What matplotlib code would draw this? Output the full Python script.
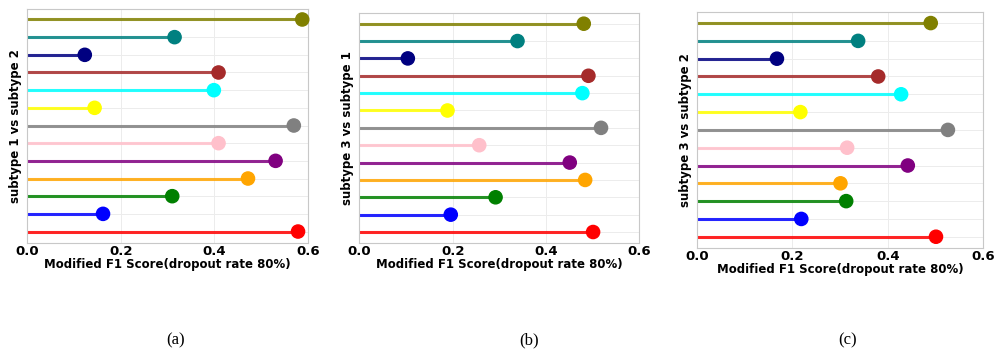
import matplotlib.pyplot as plt
import numpy as np

# rows, bottom to top
colors = ['red', 'blue', 'green', 'orange', 'purple', 'pink', 'gray',
          'yellow', 'cyan', 'brown', 'navy', 'teal', 'olive']

f1_s1_s2 = [0.579, 0.162, 0.310, 0.472, 0.531, 0.409, 0.570,
            0.144, 0.399, 0.409, 0.123, 0.315, 0.588]
f1_s3_s1 = [0.501, 0.196, 0.292, 0.484, 0.451, 0.257, 0.518,
            0.189, 0.478, 0.491, 0.104, 0.339, 0.481]
f1_s3_s2 = [0.501, 0.219, 0.313, 0.301, 0.442, 0.315, 0.526,
            0.217, 0.428, 0.380, 0.168, 0.338, 0.490]

ylabels = ['subtype 1 vs subtype 2', 'subtype 3 vs subtype 1', 'subtype 3 vs subtype 2']
captions = ['(a)', '(b)', '(c)']
xticks = [0.0, 0.2, 0.4, 0.6]

fig = plt.figure(figsize=(9.95, 3.58), dpi=100)
boxes = [
    [0.0274, 0.3212, 0.282, 0.654],
    [0.3611, 0.3204, 0.2814, 0.6425],
    [0.7002, 0.3064, 0.288, 0.659],
]
cap_x = [0.176, 0.532, 0.852]

for box, vals, lab, cap, cx in zip(boxes, [f1_s1_s2, f1_s3_s1, f1_s3_s2], ylabels, captions, cap_x):
    ax = fig.add_axes(box)
    y = np.arange(len(vals))
    ax.hlines(y, 0, vals, colors=colors, linewidth=2.2, alpha=0.85, zorder=2)
    ax.scatter(vals, y, c=colors, s=90, zorder=3, clip_on=False)
    ax.set_xlim(0, 0.6)
    ax.set_ylim(-0.65, 12.6)
    ax.set_xticks(xticks)
    ax.set_xticklabels([f'{t:.1f}' for t in xticks], fontsize=9.5, fontweight='bold')
    ax.set_yticks(y)
    ax.set_yticklabels([])
    ax.tick_params(length=0, pad=1.5)
    ax.grid(True, color='#ececec', linewidth=0.7, zorder=0)
    for s in ax.spines.values():
        s.set_color('#c8c8c8')
    ax.set_xlabel('Modified F1 Score(dropout rate 80%)', fontsize=8.5, fontweight='bold', labelpad=0)
    ax.set_ylabel(lab, fontsize=8.5, fontweight='bold', labelpad=2)
    fig.text(cx, 0.05, cap, family='Liberation Serif', fontsize=12, ha='center', va='center')

plt.savefig('out.png', dpi=100)
